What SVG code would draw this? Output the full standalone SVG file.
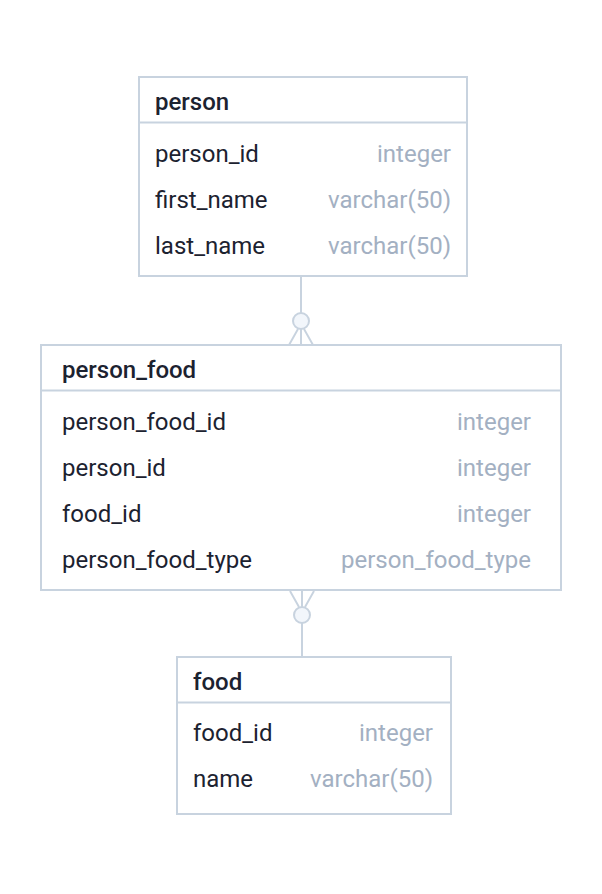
<svg xmlns="http://www.w3.org/2000/svg" width="602" height="894" viewBox="0 0 602 894">
<style>
.box{fill:#ffffff;stroke:#c8d3df;stroke-width:2}
.sep{stroke:#c8d3df;stroke-width:2}
.title{font-family:Roboto,"Liberation Sans",sans-serif;font-size:24px;font-weight:500;fill:#1c2230}
.col{font-family:Roboto,"Liberation Sans",sans-serif;font-size:24px;fill:#1c2230}
.typ{font-family:Roboto,"Liberation Sans",sans-serif;font-size:24px;fill:#a3b0c2;text-anchor:end}
.conn{stroke:#c8d3df;stroke-width:2;fill:none}
.knob{fill:#f2f6fb;stroke:#c8d3df;stroke-width:2}
</style>
<rect width="602" height="894" fill="#ffffff"/>
<g id="connectors">
<line class="conn" x1="301" y1="277" x2="301" y2="345"/>
<line class="conn" x1="298" y1="329" x2="289" y2="345"/>
<line class="conn" x1="304" y1="329" x2="313" y2="345"/>
<circle class="knob" cx="301" cy="321" r="8"/>
<line class="conn" x1="302" y1="590" x2="302" y2="657"/>
<line class="conn" x1="299" y1="607" x2="290" y2="591"/>
<line class="conn" x1="305" y1="607" x2="314" y2="591"/>
<circle class="knob" cx="302" cy="615" r="8"/>
</g>
<g id="person">
<rect class="box" x="139" y="77" width="328" height="199"/>
<line class="sep" x1="139" y1="122.5" x2="467" y2="122.5"/>
<text class="title" x="155" y="110">person</text>
<text class="col" x="155" y="162">person_id</text>
<text class="typ" x="451" y="162">integer</text>
<text class="col" x="155" y="208">first_name</text>
<text class="typ" x="451" y="208">varchar(50)</text>
<text class="col" x="155" y="254">last_name</text>
<text class="typ" x="451" y="254">varchar(50)</text>
</g>
<g id="person_food">
<rect class="box" x="41" y="345" width="520" height="245"/>
<line class="sep" x1="41" y1="390.5" x2="561" y2="390.5"/>
<text class="title" x="62" y="378">person_food</text>
<text class="col" x="62" y="430">person_food_id</text>
<text class="typ" x="531" y="430">integer</text>
<text class="col" x="62" y="476">person_id</text>
<text class="typ" x="531" y="476">integer</text>
<text class="col" x="62" y="522">food_id</text>
<text class="typ" x="531" y="522">integer</text>
<text class="col" x="62" y="568">person_food_type</text>
<text class="typ" x="531" y="568">person_food_type</text>
</g>
<g id="food">
<rect class="box" x="177" y="657" width="274" height="157"/>
<line class="sep" x1="177" y1="702.5" x2="451" y2="702.5"/>
<text class="title" x="193" y="690">food</text>
<text class="col" x="193" y="741">food_id</text>
<text class="typ" x="433" y="741">integer</text>
<text class="col" x="193" y="787">name</text>
<text class="typ" x="433" y="787">varchar(50)</text>
</g>
</svg>
